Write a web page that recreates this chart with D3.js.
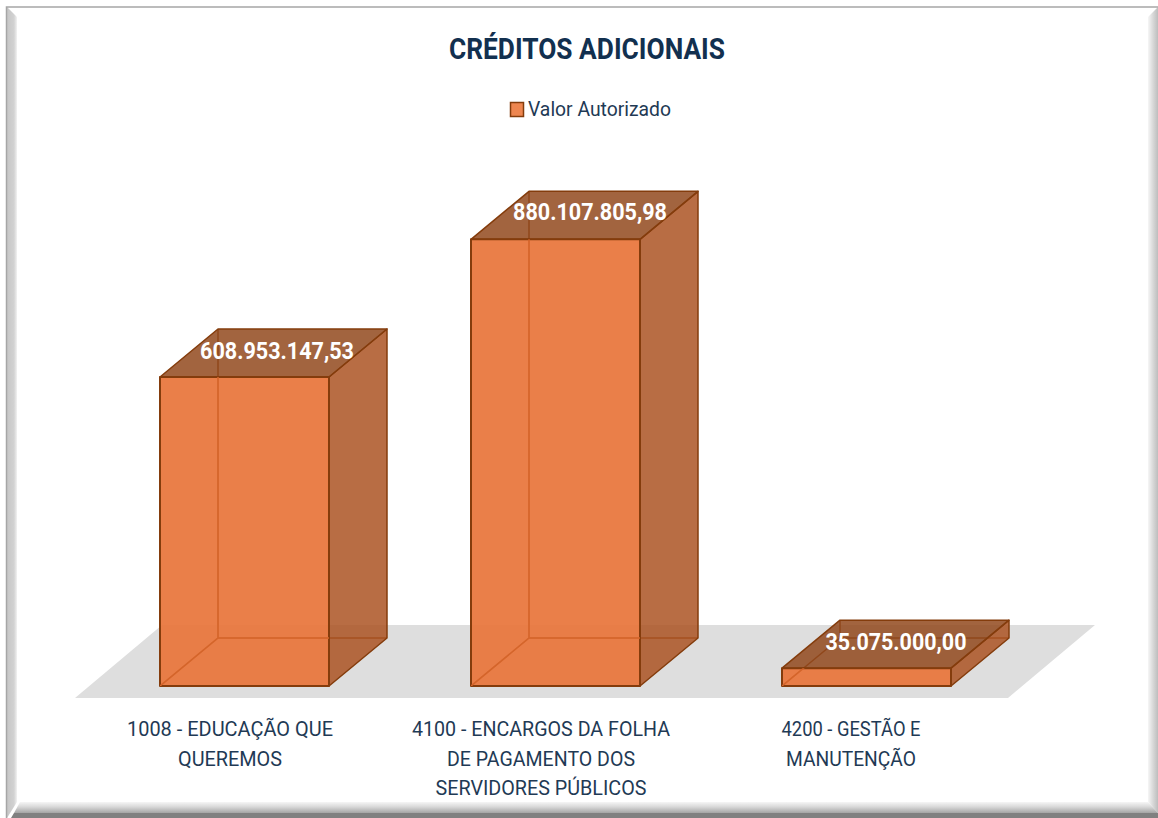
<!DOCTYPE html>
<html><head><meta charset="utf-8">
<script src="https://cdn.jsdelivr.net/npm/d3@7"></script>
<style>html,body{margin:0;padding:0;background:#fff;overflow:hidden}svg{display:block}text{font-family:"Roboto",sans-serif}</style>
</head><body><svg id="c" width="1158" height="818"></svg>
<script>
const categories = ["1008 - EDUCAÇÃO QUE QUEREMOS","4100 - ENCARGOS DA FOLHA DE PAGAMENTO DOS SERVIDORES PÚBLICOS","4200 - GESTÃO E MANUTENÇÃO"];
const categoryLines = [["1008 - EDUCAÇÃO QUE","QUEREMOS"],["4100 - ENCARGOS DA FOLHA","DE PAGAMENTO DOS","SERVIDORES PÚBLICOS"],["4200 - GESTÃO E","MANUTENÇÃO"]];
const lineWidths = [[206,104],[258,188,211],[139,130]];
const lineCentres = [230,541,851];
const values = [608953147.53,880107805.98,35075000.00];
const valueLabels = ["608.953.147,53","880.107.805,98","35.075.000,00"];
const labelWidths = [154,154,141];
const labelCentres = [277,590,896];
const labelOffsets = [30,29,30];
const seriesName = "Valor Autorizado";
const title = "CRÉDITOS ADICIONAIS";

const svg = d3.select("#c");
const W=1158,H=818, base=686, dx=58, dy=-48;
const x = d3.scaleBand().domain(categories).range([160,951]).paddingInner(0.4566).paddingOuter(0);
const y = d3.scaleLinear().domain([0,1000e6]).range([base,base-507.5]);

const defs = svg.append("defs");
function grad(id,x1,y1,x2,y2,stops){const g=defs.append("linearGradient").attr("id",id).attr("x1",x1).attr("y1",y1).attr("x2",x2).attr("y2",y2);
 stops.forEach(s=>g.append("stop").attr("offset",s[0]).attr("stop-color",s[1]));}
grad("gL",0,0,1,0,[[0,"#c6c6c6"],[.7,"#d2d2d2"],[1,"#f2f2f2"]]);
grad("gR",0,0,1,0,[[0,"#f6f6f6"],[.5,"#d8d8d8"],[1,"#bdbdbd"]]);
grad("gB",0,0,0,1,[[0,"#f6f6f6"],[.45,"#d8d8d8"],[1,"#a4a4a4"]]);

// frame
svg.append("rect").attr("width",W).attr("height",H).attr("fill","#fff");
svg.append("path").attr("d","M7 7L17 17V802L7 818Z").attr("fill","url(#gL)");
svg.append("path").attr("d","M1158 7L1148 17V802L1158 813Z").attr("fill","url(#gR)");
svg.append("path").attr("d","M14 813L20 802H1148L1158 813Z").attr("fill","url(#gB)");
svg.append("path").attr("d","M11 818L14 813H1158V818Z").attr("fill","#808080");
svg.append("path").attr("d","M6.5 818V7H1158").attr("fill","none").attr("stroke","#a6a6a6").attr("stroke-width",1.5);

// floor
const fx0=x.range()[0]-85, fx1=x.range()[1]+57;
svg.append("path").attr("d",`M${fx0} 698H${fx1}L${fx1+87} 625H${fx0+87}Z`).attr("fill","#dedede");

// bars
const edge="#843c0c";
const g = svg.append("g").selectAll("g").data(categories).join("g");
g.each(function(c,i){
  const s=d3.select(this), l=x(c), r=l+x.bandwidth(), t=y(values[i]), b=y(0);
  const p=(pts,f,op,st,sw)=>s.append("path").attr("d",d3.line()(pts)+"Z").attr("fill",f).attr("fill-opacity",op)
     .attr("stroke",st).attr("stroke-width",sw).attr("stroke-linejoin","round");
  const hidden=`M${l+dx} ${t+dy}V${b+dy}M${l} ${b}L${l+dx} ${b+dy}H${r+dx}`;
  const clip="clip"+i;
  defs.append("clipPath").attr("id",clip).append("rect").attr("x",l).attr("y",t).attr("width",r-l).attr("height",b-t);
  // hidden back edges, seen through the darker side and top faces
  s.append("path").attr("d",hidden).attr("fill","none").attr("stroke",edge).attr("stroke-width",1.5);
  p([[r,t],[r+dx,t+dy],[r+dx,b+dy],[r,b]],"#ac5423",.85,edge,1.5);
  p([[l,t],[r,t],[r+dx,t+dy],[l+dx,t+dy]],"#92491d",.85,edge,1.5);
  p([[l,t],[r,t],[r,b],[l,b]],"#e8743a",.92,edge,2);
  // hidden back edges, seen through the front face
  s.append("path").attr("d",hidden).attr("fill","none").attr("stroke","#d4652b").attr("stroke-width",1.5).attr("clip-path",`url(#${clip})`);
  // data label
  s.append("text").attr("x",labelCentres[i]).attr("y",t+dy+labelOffsets[i]).attr("text-anchor","middle")
   .attr("font-size",23).attr("font-weight",700).attr("fill","#fff")
   .attr("textLength",labelWidths[i]).attr("lengthAdjust","spacingAndGlyphs").text(valueLabels[i]);
  // category label
  categoryLines[i].forEach((t2,j)=>s.append("text").attr("x",lineCentres[i]).attr("y",736+j*29.5).attr("text-anchor","middle")
   .attr("font-size",21).attr("fill","#1f3a55").attr("textLength",lineWidths[i][j]).attr("lengthAdjust","spacingAndGlyphs").text(t2));
});

// title
svg.append("text").attr("x",587).attr("y",59).attr("text-anchor","middle").attr("font-size",29).attr("font-weight",700)
 .attr("fill","#12304f").attr("textLength",276).attr("lengthAdjust","spacingAndGlyphs").text(title);
// legend
svg.append("rect").attr("x",510.5).attr("y",102.5).attr("width",13).attr("height",14).attr("fill","#ee8650").attr("stroke",edge).attr("stroke-width",1.5);
svg.append("text").attr("x",528).attr("y",116).attr("font-size",20).attr("fill","#1f3a55").attr("textLength",143).attr("lengthAdjust","spacingAndGlyphs").text(seriesName);
</script></body></html>
